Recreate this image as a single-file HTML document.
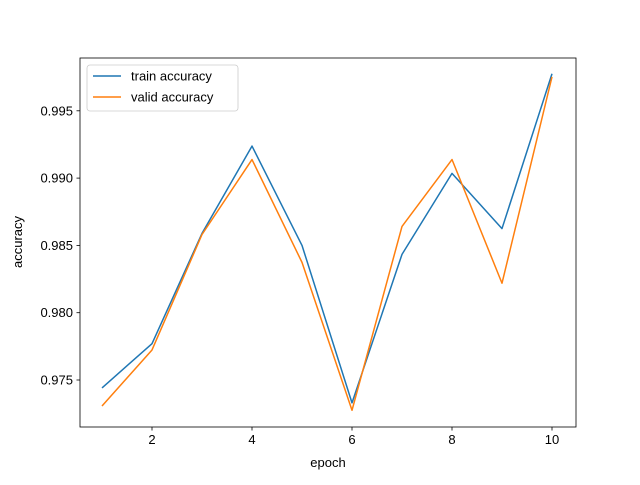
<!DOCTYPE html>
<html><head><meta charset="utf-8"><style>
body{margin:0;background:#fff}
svg text{font-family:"Liberation Sans","DejaVu Sans",sans-serif;font-size:13px;fill:#000}
</style></head><body>
<svg id="chart" width="640" height="480" xmlns="http://www.w3.org/2000/svg">
<rect width="640" height="480" fill="#fff"/>
<g id="plot"></g>
</svg>
<script>
const epochs=[1,2,3,4,5,6,7,8,9,10];
const trainAcc=[0.97441,0.97770,0.98589,0.99238,0.98500,0.97330,0.98433,0.99035,0.98625,0.99775];
const validAcc=[0.97307,0.97723,0.98581,0.99138,0.98374,0.97275,0.98641,0.99138,0.98219,0.99752];
const xTicks=[2,4,6,8,10];
const yTicks=[0.975,0.980,0.985,0.990,0.995];
const yTickLabels=["0.975","0.980","0.985","0.990","0.995"];

const L=80,R=576,T=58,B=427;
const xs=v=>102+(v-1)*50;
const ys=v=>380-(v-0.975)/0.005*67.3;
const ns="http://www.w3.org/2000/svg";
const g=document.getElementById('plot');
function mk(tag,attrs,parent){const e=document.createElementNS(ns,tag);for(const k in attrs)e.setAttribute(k,attrs[k]);(parent||g).appendChild(e);return e;}

function series(data,color,name){
  const p=mk('polyline',{points:data.map((v,i)=>xs(epochs[i])+','+ys(v)).join(' '),fill:'none',stroke:color,'stroke-width':1.5,'stroke-linejoin':'round'});
  
  
}
series(trainAcc,'#1f77b4','train-accuracy-line');
series(validAcc,'#ff7f0e','valid-accuracy-line');

const frame=mk('rect',{x:L,y:T,width:R-L,height:B-T,fill:'none',stroke:'#000','stroke-width':0.8});



xTicks.forEach(t=>{
  const x=xs(t);
  mk('line',{x1:x,y1:B,x2:x,y2:B+3.5,stroke:'#000','stroke-width':0.8});
  const tx=mk('text',{x:x,y:B+17,'text-anchor':'middle'});tx.textContent=t;
  
  
});
yTicks.forEach((t,i)=>{
  const y=ys(t);
  mk('line',{x1:L-3.5,y1:y,x2:L,y2:y,stroke:'#000','stroke-width':0.8});
  const tx=mk('text',{x:L-7,y:y+4.5,'text-anchor':'end'});tx.textContent=yTickLabels[i];
  
  
});
const xl=mk('text',{x:328,y:467,'text-anchor':'middle'});xl.textContent='epoch';


const yl=mk('text',{x:22,y:242,'text-anchor':'middle',transform:'rotate(-90 22 242)'});yl.textContent='accuracy';



const lg=mk('g',{});


mk('rect',{x:87,y:65,width:151,height:46,rx:3,fill:'#fff','fill-opacity':0.8,stroke:'#ccc','stroke-width':0.8},lg);
[['train accuracy','#1f77b4',76],['valid accuracy','#ff7f0e',97]].forEach(([n,c,y])=>{
  const e=mk('g',{},lg);
  
  
  mk('line',{x1:93,y1:y,x2:121,y2:y,stroke:c,'stroke-width':1.5},e);
  const t=mk('text',{x:131,y:y+4.5},e);t.textContent=n;
});
</script>
</body></html>
